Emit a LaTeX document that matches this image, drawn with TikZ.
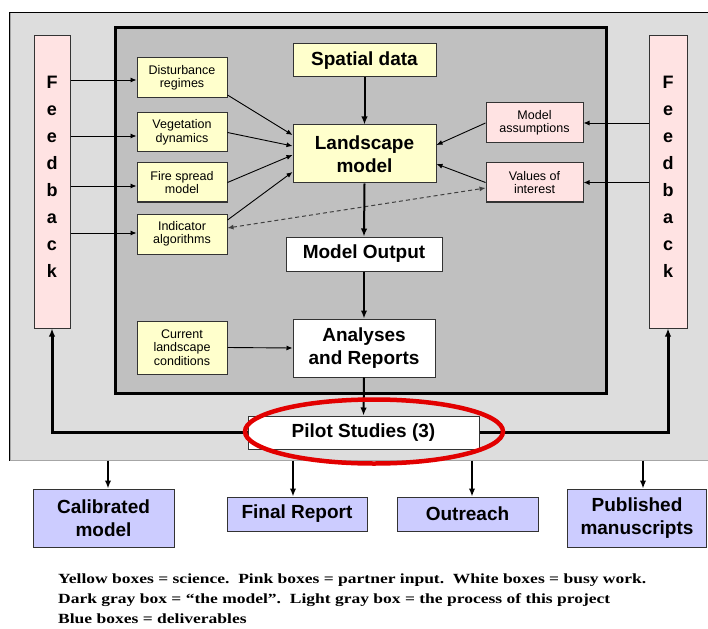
\documentclass[tikz,border=0pt]{standalone}
\usepackage{graphicx}
\usepackage{fontspec}
\setmainfont{Liberation Sans}
\newfontfamily\capfont{Liberation Serif}
\usetikzlibrary{arrows.meta,calc}
\definecolor{ylw}{HTML}{FFFFCC}
\definecolor{pnk}{HTML}{FFE3E3}
\definecolor{blu}{HTML}{CCCCFF}
\definecolor{dgray}{HTML}{C0C0C0}
\definecolor{lgray}{HTML}{DDDDDD}
\definecolor{edge}{HTML}{333333}
\definecolor{ring}{HTML}{E20000}
\begin{document}
\begin{tikzpicture}[x=1pt,y=-1pt,
  box/.style={draw=edge, line width=1pt, rectangle, inner sep=0pt, align=center},
  small/.style={box, font=\fontsize{12.5}{13.5}\selectfont, minimum width=90pt},
  ysmall/.style={small, fill=ylw},
  psmall/.style={small, fill=pnk, minimum width=97pt},
  big/.style={box, font=\bfseries\fontsize{19}{23}\selectfont},
  fbbox/.style={box, fill=pnk, minimum height=292pt},
  fbtext/.style={font=\bfseries\fontsize{18}{27}\selectfont, align=center, inner sep=0pt},
  thin/.style={-{Latex[length=6pt,width=5pt]}, line width=0.9pt},
  thick/.style={-{Latex[length=8pt,width=6.5pt]}, line width=2pt},
  captext/.style={anchor=base west, inner sep=0pt, font=\capfont\bfseries\fontsize{14}{16}\selectfont}
]
\useasboundingbox (0,0) rectangle (708,628);

% process box (light gray) and model box (dark gray)
\node[rectangle, fill=lgray, draw=gray!70, line width=1pt, inner sep=0pt,
      minimum width=698pt, minimum height=447pt] (proc) at (359,236.5) {};
\draw[line width=1.5pt] (proc.south west) -- (proc.north west) -- (proc.north east);
\node[rectangle, fill=dgray, draw=black, line width=3pt, inner sep=0pt,
      minimum width=491pt, minimum height=365pt] (mdl) at (360.5,210.5) {};

% feedback bars
\node[fbbox, minimum width=36pt] (fbL) at (52,182) {};
\node[fbtext] (fbLt) at ([yshift=5.5pt]fbL.center) {F\\e\\e\\d\\b\\a\\c\\k};
\node[fbbox, minimum width=38pt] (fbR) at (668,182) {};
\node[fbtext] (fbRt) at ([yshift=5.5pt]fbR.center) {F\\e\\e\\d\\b\\a\\c\\k};

% yellow science boxes
\node[ysmall, minimum height=40pt] (dist) at (182,78) {Disturbance\\regimes};
\node[ysmall, minimum height=39pt] (veg) at (182,132.5) {Vegetation\\dynamics};
\node[ysmall, minimum height=39pt] (fire) at (182,182.5) {Fire spread\\model};
\node[ysmall, minimum height=40pt] (ind) at (182,234) {Indicator\\algorithms};
\node[ysmall, minimum height=53pt] (cur) at (182,347.5) {Current\\landscape\\conditions};

\node[big, fill=ylw, minimum width=143pt, minimum height=33pt] (spatial) at (364.5,60.5) {Spatial data};
\node[big, fill=ylw, minimum width=143pt, minimum height=58pt] (land) at (364.5,154) {Landscape\\model};
\node[big, fill=white, minimum width=156pt, minimum height=34pt] (out) at (364,254) {Model Output};
\node[big, fill=white, minimum width=142pt, minimum height=58pt] (ana) at (364,348) {Analyses\\and Reports};

% pink partner boxes
\node[psmall, minimum height=40pt] (assump) at (534.5,123) {Model\\assumptions};
\node[psmall, minimum height=39pt] (values) at (534.5,182.5) {Values of\\interest};

% pilot studies
\node[big, fill=white, minimum width=231pt, minimum height=33pt] (pilot) at (363.5,432.5) {Pilot Studies (3)};

% deliverables
\node[big, fill=blu, minimum width=141pt, minimum height=58pt] (cal) at (103.5,518) {Calibrated\\model};
\node[big, fill=blu, minimum width=140pt, minimum height=34pt] (final) at (297,514) {Final Report};
\node[big, fill=blu, minimum width=141pt, minimum height=34pt] (outreach) at (467.5,514) {Outreach};
\node[big, fill=blu, minimum width=139pt, minimum height=58pt] (pub) at (637,518) {Published\\manuscripts};

% feedback -> inputs
\coordinate (a1) at ([yshift=-2pt]dist.west);
\coordinate (a2) at ([yshift=-3.5pt]veg.west);
\coordinate (a3) at ([yshift=-3.5pt]fire.west);
\coordinate (a4) at ([yshift=1pt]ind.west);
\draw[thin] (fbL.east |- a1) -- (a1);
\draw[thin] (fbL.east |- a2) -- (a2);
\draw[thin] (fbL.east |- a3) -- (a3);
\draw[thin] (fbL.east |- a4) -- (a4);
\draw[thin] (fbR.west |- assump.east) -- (assump.east);
\draw[thin] (fbR.west |- values.east) -- (values.east);

% inputs -> landscape model
\draw[thin] ([yshift=-17pt]dist.east) -- ([yshift=19pt]land.west);
\draw[thin] (veg.east) -- ([yshift=8pt]land.west);
\draw[thin] (fire.east) -- ([yshift=-1pt]land.west);
\draw[thin] ([yshift=14pt]ind.east) -- ([yshift=-18pt]land.west);
\draw[thin] (assump.west) -- ([yshift=9pt]land.east);
\draw[thin] (values.west) -- ([yshift=-10pt]land.east);
\draw[line width=1pt, dash pattern=on 4pt off 3pt, draw=black!75, {Latex[length=6pt,width=5pt]}-{Latex[length=6pt,width=5pt]}]
  ([yshift=6pt]ind.east) -- ([yshift=-5.5pt]values.west);

% main chain
\draw[thick] (spatial.south) -- (land.north);
\draw[thick] (land.south) -- (out.north);
\draw[thick] (out.south) -- (ana.north);
\draw[thick] (ana.south) -- (pilot.north);
\draw[thin] (cur.east) -- (ana.west);

% pilot -> feedback
\draw[thick, line width=3pt] (pilot.west) -| (fbL.south);
\draw[thick, line width=3pt] (pilot.east) -| (fbR.south);

% process -> deliverables
\coordinate (d1) at ([xshift=4.5pt]cal.north);
\coordinate (d2) at ([xshift=-4pt]final.north);
\coordinate (d3) at ([xshift=4.5pt]outreach.north);
\coordinate (d4) at ([xshift=6pt]pub.north);
\draw[thick] (d1 |- proc.south) -- (d1);
\draw[thick] (d2 |- proc.south) -- (d2);
\draw[thick] (d3 |- proc.south) -- (d3);
\draw[thick] (d4 |- proc.south) -- (d4);

% red ring
\draw[ring, line width=4.5pt] (374,431.5) ellipse [x radius=129, y radius=32];

% caption
\node[captext] (cap1) at (58,583) {\scalebox{1.25}[1]{Yellow boxes = science.\ \ Pink boxes = partner input.\ \ White boxes = busy work.}};
\node[captext] (cap2) at (58,603.5) {\scalebox{1.25}[1]{Dark gray box = “the model”.\ \ Light gray box = the process of this project}};
\node[captext] (cap3) at (58,623.5) {\scalebox{1.25}[1]{Blue boxes = deliverables}};
\end{tikzpicture}
\end{document}
